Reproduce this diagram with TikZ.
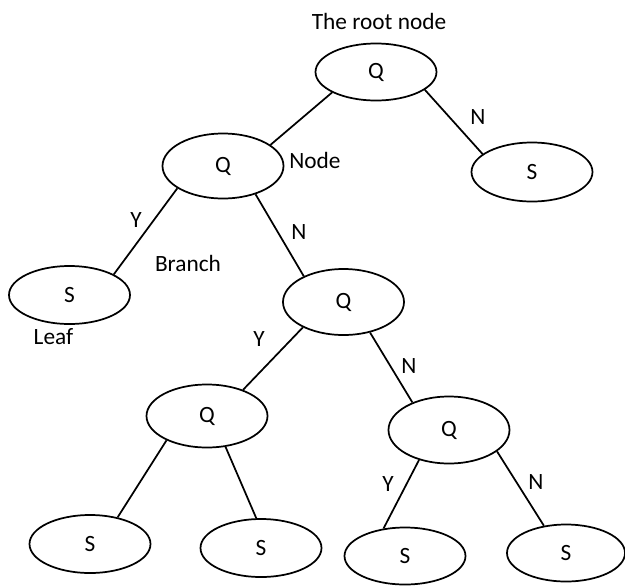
\documentclass[tikz,border=0pt]{standalone}
\usepackage{fontspec}
\setmainfont{Carlito}
\usetikzlibrary{shapes.geometric}

\tikzset{
  tnode/.style={draw, ellipse, line width=1.3pt, inner sep=0pt,
    minimum width=90.75pt, minimum height=#1,
    font=\fontsize{17.5}{21}\selectfont},
  tnode/.default=45pt,
  edge/.style={line width=1.3pt},
  lbl/.style={inner sep=0pt, font=\fontsize{17.5}{21}\selectfont}
}

\begin{document}
\begin{tikzpicture}[x=0.75pt, y=-0.75pt]
  \useasboundingbox (0,0) rectangle (625,586);

  % decision and leaf nodes
  \node[tnode=42.75pt] (root) at (376,72)  {\raisebox{-3pt}{Q}};
  \node[tnode=48.75pt] (q2)   at (223,166) {Q};
  \node[tnode=44.25pt] (sr)   at (532,172) {S};
  \node[tnode=43.5pt]  (sl)   at (69.5,295) {S};
  \node[tnode=49.5pt]  (qm)   at (343.5,302) {Q};
  \node[tnode=47.25pt] (qll)  at (207,416) {Q};
  \node[tnode=50.25pt] (qlr)  at (449,430) {Q};
  \node[tnode=43.5pt]  (s1)   at (90,544)  {S};
  \node[tnode=43.5pt]  (s2)   at (261,548) {S};
  \node[tnode=42.75pt] (s3)   at (405,556) {S};
  \node[tnode=42.75pt, minimum width=88.5pt] (s4) at (566,553) {S};

  % branches
  \draw[edge] (root.205) -- (q2.24);
  \draw[edge] (root.340) -- (sr.160);
  \draw[edge] (q2.206)   -- (sl.25);
  \draw[edge] (q2.319)   -- (qm.147);
  \draw[edge] (qm.212)   -- (qll.36);
  \draw[edge] (qm.311)   -- (qlr.143);
  \draw[edge] (qll.211)  -- (s1.44);
  \draw[edge] (qll.301)  -- (s2.99);
  \draw[edge] (qlr.225)  -- (s3.128);
  \draw[edge] (qlr.336)  -- (s4.129);

  % annotations and branch labels
  \node[lbl] (troot)  at (379,21)  {The root node};
  \node[lbl, anchor=west] (tnodelbl) at (289,160) {Node};
  \node[lbl] (tbranch) at (188,263) {Branch};
  \node[lbl] (tleaf)  at (53.5,337) {Leaf};
  \node[lbl] (n1) at (478,117) {N};
  \node[lbl] (y1) at (136,220) {Y};
  \node[lbl] (n2) at (299,232) {N};
  \node[lbl] (y2) at (259,339) {Y};
  \node[lbl] (n3) at (409,366) {N};
  \node[lbl] (y3) at (388,484) {Y};
  \node[lbl] (n4) at (536,482) {N};
\end{tikzpicture}
\end{document}
